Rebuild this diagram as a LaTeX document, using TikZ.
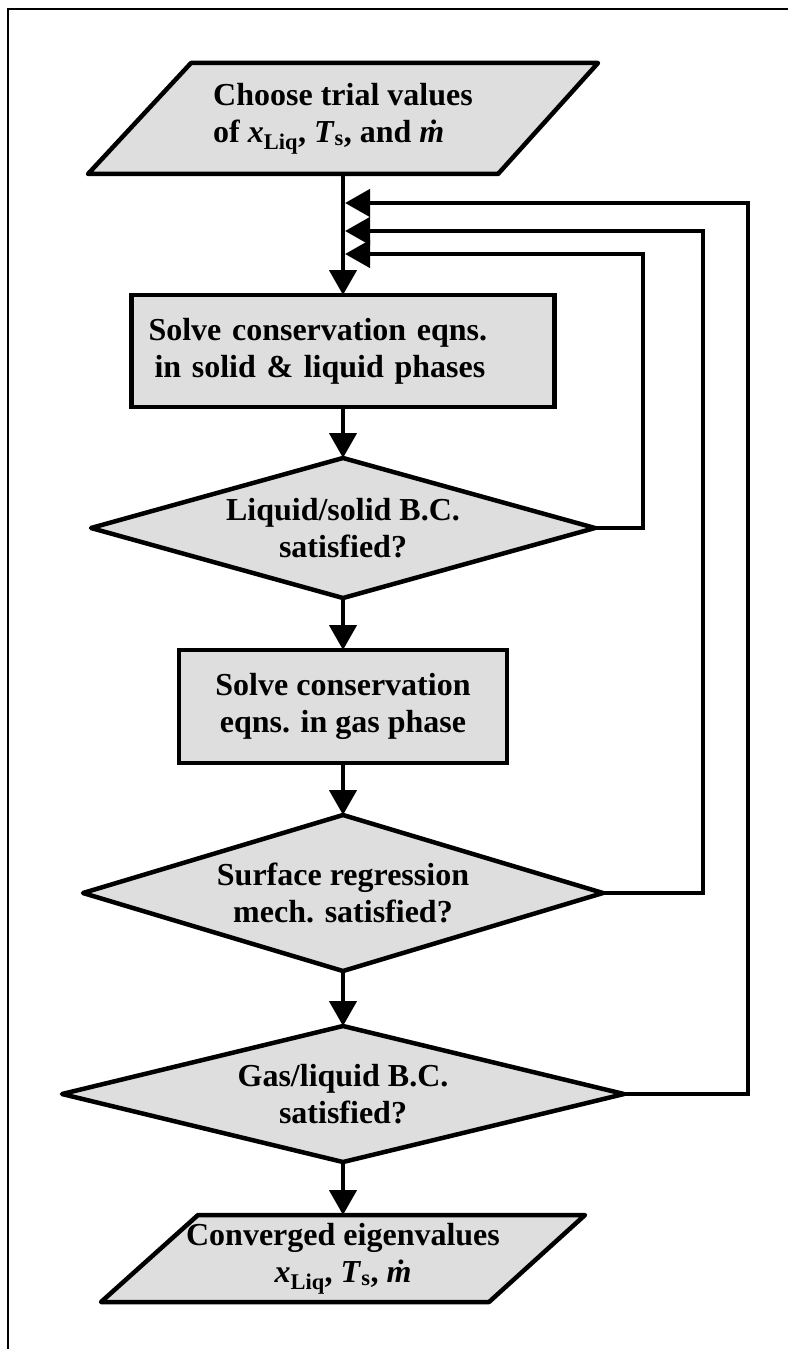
\documentclass[tikz,border=0pt]{standalone}
\usepackage{fontspec}
\setmainfont{Liberation Serif}
\usepackage{tikz}
\usetikzlibrary{arrows.meta,shapes,positioning,backgrounds}
\usepackage{xcolor}
\definecolor{flowgray}{RGB}{222,222,222}
\newcommand{\flowfont}{\fontsize{32bp}{37bp}\selectfont\bfseries}
\tikzstyle{arrow} = [line width=4.5bp,->,>={Triangle[length=25bp,width=27bp]}]
\tikzstyle{process} = [rectangle, minimum height=112bp, text centered, align=center, draw=black, fill=flowgray, line width=4.5bp, outer sep=0pt, font=\flowfont]
\tikzstyle{decision} = [diamond, inner sep=0pt, text centered, align=center, draw=black, fill=flowgray, line width=4.5bp, line join=round, outer sep=0pt, font=\flowfont]
\tikzstyle{io} = [rectangle, inner sep=0pt, outer sep=0pt, text centered, font=\flowfont]
\tikzstyle{iofill} = [draw=black, fill=flowgray, line width=4.5bp, line join=round]
\tikzstyle{frame} = [line width=2bp]

\begin{document}
\begin{tikzpicture}[x=1bp, y=-1bp]
\useasboundingbox (0,0) rectangle (788,1349);
\draw[frame] (8,1349) -- (8,9) -- (788,9);

% Main chain
\node (start) [io, align=left, minimum width=510bp, minimum height=111bp] at (343,118.5) {Choose trial values\\of \textit{x}\textsubscript{Liq}, \textit{T}\textsubscript{s}, and \textit{ṁ}};
\node (solve1) [process, below=121bp of start, text width=389bp, inner xsep=17bp, align=left] {Solve conservation eqns.\\\hspace{6bp}in solid \& liquid phases};
\node (dec1) [decision, below=51bp of solve1, minimum width=504bp, minimum height=140bp, aspect=3.6] {Liquid/solid B.C.\\satisfied?};
\node (solve2) [process, below=52bp of dec1, minimum width=328bp, minimum height=113bp, inner sep=0pt] {Solve conservation\\eqns. in gas phase};
\node (dec2) [decision, below=52bp of solve2, minimum width=520bp, minimum height=156bp, aspect=3.33] {Surface regression\\mech. satisfied?};
\node (dec3) [decision, below=55bp of dec2, minimum width=562bp, minimum height=136bp, aspect=4.13] {Gas/liquid B.C.\\satisfied?};
\node (stop) [io, align=center, below=53bp of dec3, minimum width=484bp, minimum height=87bp] {Converged eigenvalues\\\textit{x}\textsubscript{Liq}, \textit{T}\textsubscript{s}, \textit{ṁ}};

\begin{scope}[on background layer]
\draw[iofill] ([xshift=103bp]start.north west) -- (start.north east) -- ([xshift=-100bp]start.south east) -- (start.south west) -- cycle;
\draw[iofill] ([xshift=97bp]stop.north west) -- (stop.north east) -- ([xshift=-96bp]stop.south east) -- (stop.south west) -- cycle;
\end{scope}

% Loop entries on the main line
\coordinate (in3) at ([xshift=2bp,yshift=-29bp]start.south);
\coordinate (in2) at ([xshift=2bp,yshift=-57bp]start.south);
\coordinate (in1) at ([xshift=2bp,yshift=-80bp]start.south);

\draw[arrow] (start) -- (solve1);
\draw[arrow] (solve1) -- (dec1);
\draw[arrow] (dec1) -- (solve2);
\draw[arrow] (solve2) -- (dec2);
\draw[arrow] (dec2) -- (dec3);
\draw[arrow] (dec3) -- (stop);

% Feedback loops
\draw[arrow] (dec1.east) -- ++(48bp,0) |- (in1);
\draw[arrow] (dec2.east) -- ++(100bp,0) |- (in2);
\draw[arrow] (dec3.east) -- ++(124bp,0) |- (in3);
\end{tikzpicture}
\end{document}
